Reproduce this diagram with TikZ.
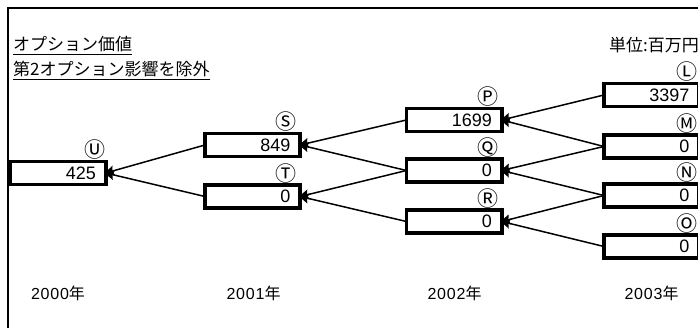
\documentclass[tikz,border=0pt]{standalone}
\usepackage{fontspec}
\setmainfont{Liberation Sans}
\newfontfamily\jp{Noto Sans CJK JP}
\newfontfamily\yr[LetterSpace=5]{Liberation Sans}
\usetikzlibrary{arrows.meta}
\begin{document}
\begin{tikzpicture}[x=1pt,y=-1pt,
  box/.style={draw, line width=3.8pt, minimum height=23pt, text width=75.6pt,
    inner xsep=9.8pt, inner ysep=0pt, align=right, outer sep=0pt,
    font=\fontsize{18}{18}\selectfont},
  lbl/.style={font=\jp\fontsize{21}{21}\selectfont, inner sep=0pt},
  title/.style={font=\jp\fontsize{17}{17}\selectfont, inner sep=0pt},
  year/.style={font=\fontsize{16}{16}\selectfont, inner sep=0pt},
  conn/.style={line width=1.5pt, -{Stealth[length=10pt,width=10pt,inset=1.5pt]}, shorten >=-1.5pt},
  frame/.style={line width=1.3pt}
]
\useasboundingbox (0,0) rectangle (698,328);
\clip (0,0) rectangle (698,328);
\draw[frame] (8,8) rectangle (720,340);

% titles
\node[title, anchor=west] (t1) at (13,45.5) {\underline{オプション価値}};
\node[title, anchor=west] (t2) at (13,70.5) {\underline{第2オプション影響を除外}};
\node[title, anchor=east] (unit) at (699,45.5) {単位:百万円};

% boxes
\node[box] (U) at (58,173) {425};
\node[box] (S) at (252.5,145) {849};
\node[box] (T) at (252.5,196.5) {0};
\node[box] (P) at (454,120) {1699};
\node[box] (Q) at (454,170.5) {0};
\node[box] (R) at (454,221.5) {0};
\node[box] (L) at (651.5,95) {3397};
\node[box] (M) at (651.5,146.5) {0};
\node[box] (N) at (651.5,195.5) {0};
\node[box] (O) at (651.5,246.5) {0};

% circled labels
\node[lbl] (lU) at ([xshift=-11pt,yshift=12pt]U.north east) {Ⓤ};
\node[lbl] (lS) at ([xshift=-14pt,yshift=11.5pt]S.north east) {Ⓢ};
\node[lbl] (lT) at ([xshift=-14pt,yshift=11.5pt]T.north east) {Ⓣ};
\node[lbl] (lP) at ([xshift=-14pt,yshift=11.5pt]P.north east) {Ⓟ};
\node[lbl] (lQ) at ([xshift=-14pt,yshift=11.5pt]Q.north east) {Ⓠ};
\node[lbl] (lR) at ([xshift=-14pt,yshift=11.5pt]R.north east) {Ⓡ};
\node[lbl] (lL) at ([xshift=-12pt,yshift=11.5pt]L.north east) {Ⓛ};
\node[lbl] (lM) at ([xshift=-12pt,yshift=11.5pt]M.north east) {Ⓜ};
\node[lbl] (lN) at ([xshift=-12pt,yshift=11.5pt]N.north east) {Ⓝ};
\node[lbl] (lO) at ([xshift=-12pt,yshift=11.5pt]O.north east) {Ⓞ};

% connectors
\draw[conn] (S.west) -- (U.east);
\draw[conn] (T.west) -- (U.east);
\draw[conn] (P.west) -- (S.east);
\draw[conn] (Q.west) -- (S.east);
\draw[conn] (Q.west) -- (T.east);
\draw[conn] (R.west) -- (T.east);
\draw[conn] (L.west) -- (P.east);
\draw[conn] (M.west) -- (P.east);
\draw[conn] (M.west) -- (Q.east);
\draw[conn] (N.west) -- (Q.east);
\draw[conn] (N.west) -- (R.east);
\draw[conn] (O.west) -- (R.east);

% years
\node[year] (y0) at (58,293) {\yr 2000\jp 年};
\node[year] (y1) at (253.5,293) {\yr 2001\jp 年};
\node[year] (y2) at (454.5,293) {\yr 2002\jp 年};
\node[year] (y3) at (651.5,293) {\yr 2003\jp 年};
\end{tikzpicture}
\end{document}
